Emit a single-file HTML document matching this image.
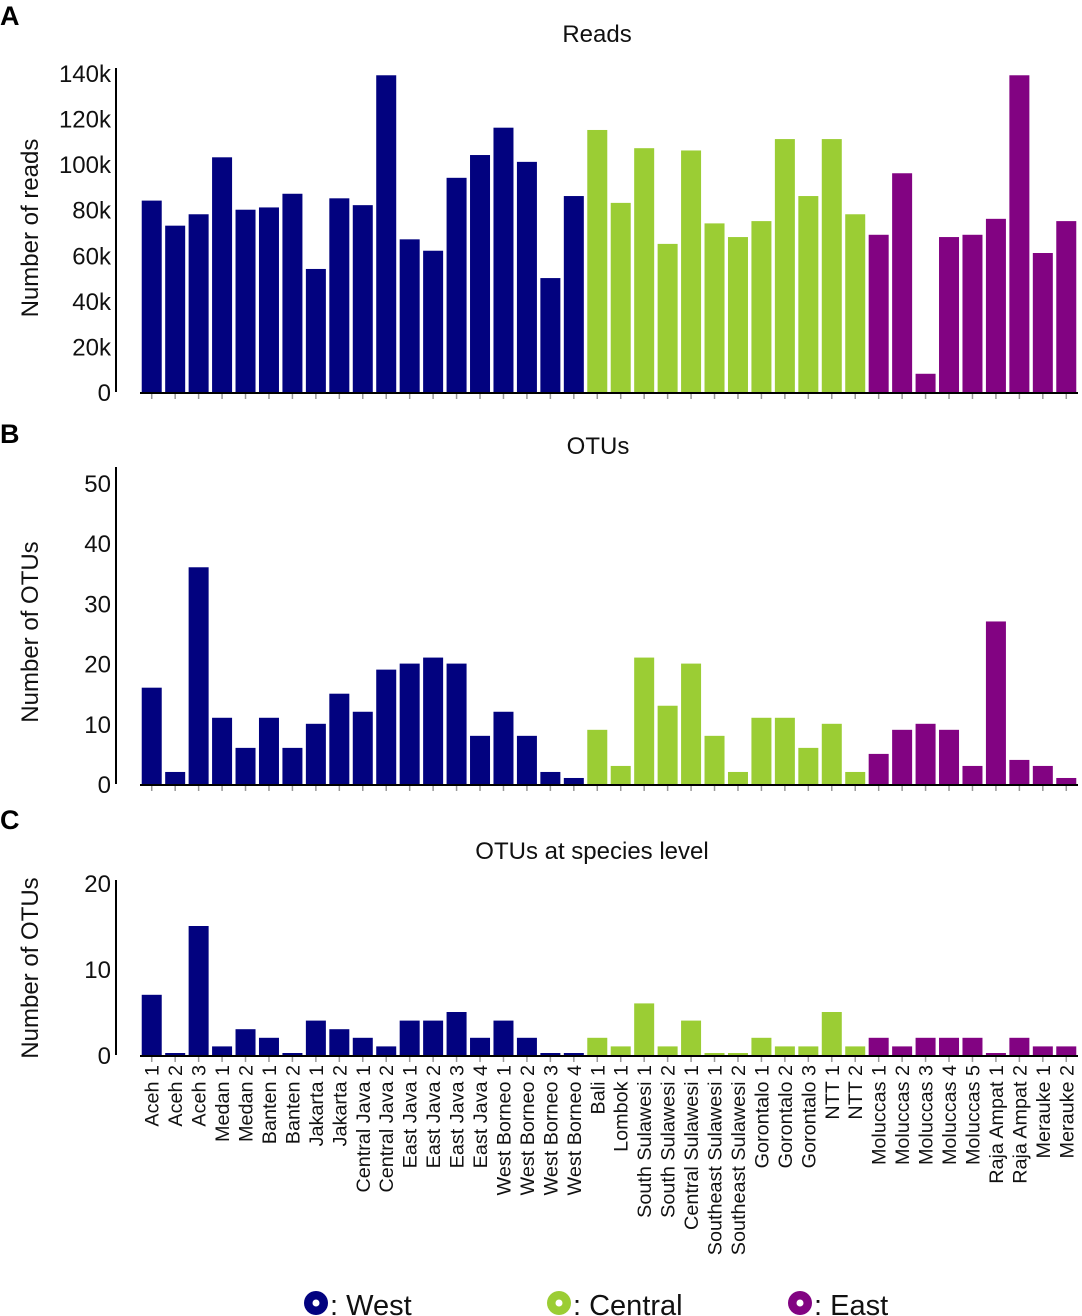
<!DOCTYPE html>
<html><head><meta charset="utf-8"><style>
html,body{margin:0;padding:0;background:#fff;}
svg{display:block;font-family:"Liberation Sans",Arial,sans-serif;}
</style></head><body>
<svg id="chart" width="1082" height="1316" viewBox="0 0 1082 1316" xmlns="http://www.w3.org/2000/svg">
<g id="root"></g>
</svg>
<script>
const categories=["Aceh 1","Aceh 2","Aceh 3","Medan 1","Medan 2","Banten 1","Banten 2","Jakarta 1","Jakarta 2","Central Java 1","Central Java 2","East Java 1","East Java 2","East Java 3","East Java 4","West Borneo 1","West Borneo 2","West Borneo 3","West Borneo 4","Bali 1","Lombok 1","South Sulawesi 1","South Sulawesi 2","Central Sulawesi 1","Southeast Sulawesi 1","Southeast Sulawesi 2","Gorontalo 1","Gorontalo 2","Gorontalo 3","NTT 1","NTT 2","Moluccas 1","Moluccas 2","Moluccas 3","Moluccas 4","Moluccas 5","Raja Ampat 1","Raja Ampat 2","Merauke 1","Merauke 2"];
const regions=["W","W","W","W","W","W","W","W","W","W","W","W","W","W","W","W","W","W","W","C","C","C","C","C","C","C","C","C","C","C","C","E","E","E","E","E","E","E","E","E"];
const reads=[84,73,78,103,80,81,87,54,85,82,139,67,62,94,104,116,101,50,86,115,83,107,65,106,74,68,75,111,86,111,78,69,96,8,68,69,76,139,61,75];
const otus=[16,2,36,11,6,11,6,10,15,12,19,20,21,20,8,12,8,2,1,9,3,21,13,20,8,2,11,11,6,10,2,5,9,10,9,3,27,4,3,1];
const species=[7,0,15,1,3,2,0,4,3,2,1,4,4,5,2,4,2,0,0,2,1,6,1,4,0,0,2,1,1,5,1,2,1,2,2,2,0,2,1,1];
const readsTicks=["0","20k","40k","60k","80k","100k","120k","140k"];
const otuTicks=["0","10","20","30","40","50"];
const speciesTicks=["0","10","20"];

const NS="http://www.w3.org/2000/svg";
const root=document.getElementById('root');
const colors={W:"#02027f",C:"#9bcd34",E:"#820382"};
const X0=140,X1=1078,slot=(X1-X0)/categories.length,bw=20;
function xPos(i){return X0+i*slot+(slot-bw)/2;}
function mk(tag,attrs,parent){const e=document.createElementNS(NS,tag);for(const k in attrs)e.setAttribute(k,attrs[k]);(parent||root).appendChild(e);return e;}

function panel(cfg){
  const g=mk('g',{});
  
  
  const y=v=>cfg.y0-(v/cfg.max)*(cfg.y0-cfg.yTop);
  const t=mk('text',{x:cfg.titleX,y:cfg.titleY,'font-size':24,'text-anchor':'middle',fill:'#111'},g);t.textContent=cfg.title;
  
  
  const L=mk('text',{x:0,y:cfg.letterY,'font-size':27,'font-weight':'bold',fill:'#000'},g);L.textContent=cfg.letter;
  
  
  const yt=mk('text',{transform:`translate(38,${cfg.ytY}) rotate(-90)`,'font-size':24,'text-anchor':'middle',fill:'#111'},g);yt.textContent=cfg.ylabel;
  
  
  const ax=mk('line',{x1:116,x2:116,y1:cfg.axTop,y2:cfg.y0,stroke:'#000','stroke-width':2},g);
  
  
  cfg.ticks.forEach((lab,i)=>{
    const v=i*cfg.step;
    const tx=mk('text',{x:111,y:y(v)+9,'font-size':24,'text-anchor':'end',fill:'#111'},g);tx.textContent=lab;
    
    
  });
  cfg.data.forEach((v,i)=>{
    const h=Math.max(2,(v/cfg.max)*(cfg.y0-cfg.yTop));
    const r=mk('rect',{x:xPos(i),y:cfg.y0-h,width:bw,height:h,fill:colors[regions[i]]},g);
    
    
    const tk=mk('line',{x1:xPos(i)+bw/2,x2:xPos(i)+bw/2,y1:cfg.y0+2,y2:cfg.y0+7,stroke:'#999','stroke-width':1.5},g);
    
    
  });
  const xa=mk('line',{x1:X0,x2:X1,y1:cfg.y0+1,y2:cfg.y0+1,stroke:'#000','stroke-width':2},g);
  
  
}
panel({name:'reads',letter:'A',letterY:25,title:'Reads',titleX:597,titleY:42,ylabel:'Number of reads',ytY:228,y0:392,yTop:73,max:140,step:20,ticks:readsTicks,data:reads,axTop:68});
panel({name:'otus',letter:'B',letterY:443,title:'OTUs',titleX:598,titleY:454,ylabel:'Number of OTUs',ytY:632,y0:784,yTop:483,max:50,step:10,ticks:otuTicks,data:otus,axTop:467});
panel({name:'species',letter:'C',letterY:829,title:'OTUs at species level',titleX:592,titleY:859,ylabel:'Number of OTUs',ytY:968,y0:1055,yTop:883,max:20,step:10,ticks:speciesTicks,data:species,axTop:880});

categories.forEach((c,i)=>{
  const cx=xPos(i)+bw/2+7;
  const t=mk('text',{transform:`translate(${cx},1065) rotate(-90)`,'font-size':19.8,'text-anchor':'end',fill:'#111'});
  t.textContent=c;
  
  
});

const legend=[["West",316,"W"],["Central",559,"C"],["East",800,"E"]];
legend.forEach(([lab,x,k])=>{
  const g=mk('g',{});
  
  
  mk('circle',{cx:x,cy:1303,r:12,fill:colors[k]},g);
  mk('circle',{cx:x,cy:1303,r:3.5,fill:'#fff'},g);
  const t=mk('text',{x:x+14,y:1315,'font-size':29,fill:'#111'},g);t.textContent=': '+lab;
});
</script>
</body></html>
